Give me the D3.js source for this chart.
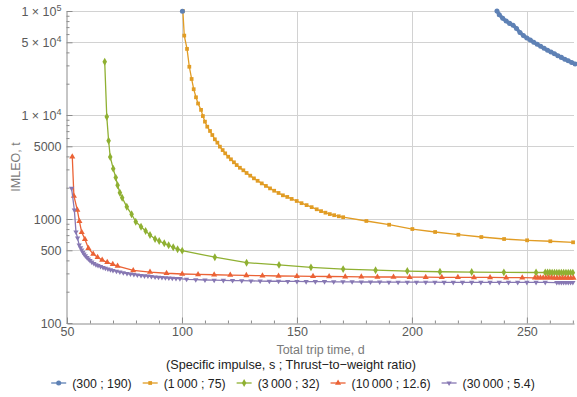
<!DOCTYPE html>
<html>
<head>
<meta charset="utf-8">
<script src="https://cdn.jsdelivr.net/npm/d3@7"></script>
<style>
  body { margin: 0; background: #fff; }
  svg { font-family: "Liberation Sans", Arial, sans-serif; }
</style>
</head>
<body>
<svg id="chart" width="577" height="397"></svg>
<script>
// Legend labels and colours
const seriesLabels = ["(300 ; 190)", "(1\u2009000 ; 75)", "(3\u2009000 ; 32)", "(10\u2009000 ; 12.6)", "(30\u2009000 ; 5.4)"];
const seriesColors = ["#5e81b5", "#e19c24", "#8fb032", "#eb6235", "#8778b3"];

// Series values (days, tonnes). null breaks the line.
const blueDays = [100.2, null, 237, 238, 239.5, 241, 242.5, 244, 245.5, 247, 248.5, 250, 251.5, 253, 254.5, 256, 257.5, 259, 260.5, 262, 263.5, 265, 266.5, 268, 269.5, 271];
const blueImleo = [99500, null, 100000, 92000, 85000, 80000, 76000, 73000, 68000, 62000, 58000, 55000, 52500, 50000, 47800, 45800, 43800, 42000, 40300, 38800, 37200, 35800, 34400, 33200, 32000, 31000];

const orangeDays = [100.4, 101.0, 102.2, 103.2, 104.2, 105.1, 106.1, 107.0, 108.3, 109.1, 110, 111, 112.2, 113.2, 114.3, 115.4, 116.5, 117.7, 118.8, 120.1, 121.3, 122.6, 123.8, 125.2, 126.7, 128.1, 129.7, 131.3, 132.9, 134.7, 136.5, 138.3, 140.1, 142, 143.9, 145.8, 147.7, 149.9, 152, 154.2, 156.4, 158.6, 160.5, 162.4, 164.3, 166.2, 168.2, 170.1, 180.2, 190.1, 200.2, 210.1, 220.2, 230.2, 240.1, 250.1, 260.2, 270.1];
const orangeImleo = [100000, 58000, 43200, 29100, 22200, 17700, 14800, 12900, 11200, 9770, 8630, 7720, 7020, 6420, 5840, 5420, 4960, 4600, 4280, 3970, 3750, 3510, 3300, 3110, 2940, 2770, 2610, 2460, 2330, 2200, 2080, 1970, 1870, 1780, 1690, 1630, 1560, 1490, 1420, 1360, 1300, 1240, 1190, 1150, 1115, 1088, 1062, 1040, 957, 881, 801, 750, 706, 671, 642, 624, 611, 597];

const greenDays = [66.4, 67.3, 68.1, 68.8, 70.1, 71.2, 72.0, 73.0, 74.0, 76.0, 78.1, 79.9, 82.2, 84.2, 86.1, 88.3, 90.1, 92.3, 94.2, 96.2, 98.1, 100.1, 114.3, 128.1, 142.2, 156.1, 170.1, 184.2, 198, 212.2, 226, 240, 254, 258, 259, 260, 261, 262, 263, 264, 265, 266, 267, 268, 269, 270];
const greenImleo = [32500, 9630, 5660, 3950, 3050, 2500, 2110, 1790, 1600, 1310, 1110, 942, 843, 767, 702, 642, 614, 584, 559, 535, 512, 496, 429, 380, 362, 343, 330, 322, 316, 311, 309, 307, 306, 306, 306, 306, 305, 305, 305, 305, 305, 305, 305, 305, 305, 305];

const redDays = [52.3, 53.0, 54.5, 55.4, 56.4, 57.8, 59.3, 61.4, 63.3, 65.3, 67.5, 69.9, 72.0, 78.8, 86.1, 93.3, 100.1, 107, 114, 121, 128, 135, 142, 150, 157, 164, 171, 178, 185, 192, 199, 206, 213, 220, 227, 234, 241, 248, 253.5, 254.7, 255.9, 257.1, 258.3, 259.5, 260.7, 261.9, 263.1, 264.3, 265.5, 266.7, 267.9, 269.1, 270.3];
const redImleo = [3970, 1665, 1220, 950, 745, 638, 523, 460, 428, 403, 383, 367, 353, 320, 309, 301, 296, 293, 291, 289, 287, 285, 283, 282, 281, 280, 279, 278, 277, 277, 276, 276, 275, 275, 274, 274, 273, 273, 272, 272, 272, 272, 272, 272, 272, 271, 271, 271, 271, 271, 271, 271, 271];

const purpleDays = [52.0, 53.2, 53.9, 54.6, 55.3, 55.9, 56.4, 56.9, 57.4, 58.0, 58.7, 59.3, 60.0, 60.8, 61.7, 62.6, 63.5, 64.6, 65.7, 66.7, 67.8, 68.9, 70.0, 71.5, 73.0, 74.5, 76.1, 77.6, 79.1, 80.6, 82.2, 83.7, 85.2, 86.7, 88.3, 89.8, 91.3, 92.8, 94.3, 95.8, 97.4, 99.1, 102, 106, 110, 114, 118, 122, 126, 130, 134, 138, 142, 146, 150, 154, 158, 162, 166, 170, 174, 178, 182, 186, 190, 194, 198, 202, 206, 210, 214, 218, 222, 226, 230, 234, 238, 242, 246, 250, 254, 258, 263, 264, 265, 266, 267, 268, 269, 270];
const purpleImleo = [1970, 1220, 750, 656, 562, 530, 503, 480, 461, 442, 426, 412, 399, 385, 373, 364, 357, 349, 342, 336, 331, 325, 320, 314, 309, 304, 299, 296, 293, 289, 286, 284, 283, 280, 277, 275, 274, 272, 271, 269, 268, 267, 263, 261, 259, 258, 257, 256, 255, 254, 253, 252, 252, 251, 251, 250, 250, 250, 249, 249, 249, 248, 248, 248, 247, 247, 247, 247, 247, 247, 246, 246, 246, 246, 246, 246, 246, 246, 246, 246, 246, 246, 245, 245, 245, 245, 245, 245, 245, 245];

const xTicks = [50, 100, 150, 200, 250];
const yTicks = [100, 500, 1000, 5000, 10000, 50000, 100000];
const yTickLabels = [["100"], ["500"], ["1000"], ["5000"], ["1 \u00d7 10", "4"], ["5 \u00d7 10", "4"], ["1 \u00d7 10", "5"]];

const xTitle = "Total trip time, d";
const yTitle = "IMLEO, t";
const legendTitle = "(Specific impulse, s ; Thrust\u2212to\u2212weight ratio)";

const series = [
  { days: blueDays, imleo: blueImleo, symbol: d3.symbolCircle, size: 20, rot: 0, width: 3.5 },
  { days: orangeDays, imleo: orangeImleo, symbol: d3.symbolSquare, size: 14, rot: 0, width: 1.3 },
  { days: greenDays, imleo: greenImleo, symbol: d3.symbolDiamond, size: 18, rot: 0, width: 1.3 },
  { days: redDays, imleo: redImleo, symbol: d3.symbolTriangle, size: 16, rot: 0, width: 1.3 },
  { days: purpleDays, imleo: purpleImleo, symbol: d3.symbolTriangle, size: 12, rot: 180, width: 1.3 }
];

const plotLeft = 67, plotRight = 574, plotTop = 11, plotBottom = 323;
const svg = d3.select("#chart");

const x = d3.scaleLinear().domain([50, 270.5]).range([plotLeft, plotRight]);
const y = d3.scaleLog().domain([100, 100000]).range([plotBottom, plotTop]);

// Grid lines
const grid = svg.append("g").attr("stroke", "#d2d2d2").attr("stroke-width", 1);
grid.selectAll("line.v")
  .data(xTicks.slice(1))
  .enter().append("line")
  .attr("x1", d => Math.round(x(d)) + 0.5).attr("x2", d => Math.round(x(d)) + 0.5)
  .attr("y1", plotTop).attr("y2", plotBottom);
grid.selectAll("line.h")
  .data([500, 1000, 5000, 10000, 50000, 100000])
  .enter().append("line")
  .attr("x1", plotLeft).attr("x2", plotRight)
  .attr("y1", d => Math.round(y(d)) + 0.5).attr("y2", d => Math.round(y(d)) + 0.5);

// Minor ticks
const minorY = [];
[100, 1000, 10000].forEach(b => { for (let k = 2; k <= 9; k++) if (k !== 5) minorY.push(b * k); });
const minorX = d3.range(60, 271, 10).filter(v => v % 50 !== 0);

const axisColor = "#8c8c8c";
const labelColor = "#5a5a5a";

const xAxis = svg.append("g").attr("transform", `translate(0,${plotBottom + 0.5})`)
  .call(d3.axisBottom(x).tickValues(xTicks).tickSizeInner(-6).tickSizeOuter(0).tickPadding(6));
svg.append("g").attr("transform", `translate(0,${plotBottom + 0.5})`)
  .call(d3.axisBottom(x).tickValues(minorX).tickSizeInner(-3).tickSizeOuter(0).tickFormat(""))
  .select(".domain").remove();

const yAxis = svg.append("g").attr("transform", `translate(${plotLeft - 0.5},0)`)
  .call(d3.axisLeft(y).tickValues(yTicks).tickSizeInner(-6).tickSizeOuter(0).tickPadding(5).tickFormat(""));
svg.append("g").attr("transform", `translate(${plotLeft - 0.5},0)`)
  .call(d3.axisLeft(y).tickValues(minorY).tickSizeInner(-3).tickSizeOuter(0).tickFormat(""))
  .select(".domain").remove();

svg.selectAll(".domain, .tick line").attr("stroke", axisColor);
xAxis.selectAll(".tick text").attr("fill", labelColor).attr("font-size", 12.5)
  .attr("font-family", "Liberation Sans, Arial, sans-serif").attr("dy", "0.5em");

// y tick labels with superscripts
yAxis.selectAll(".tick").each(function(d) {
  const parts = yTickLabels[yTicks.indexOf(d)];
  d3.select(this).select("text").remove();
  const t = d3.select(this).append("text")
    .attr("x", -5).attr("y", 4)
    .attr("text-anchor", "end")
    .attr("fill", labelColor)
    .attr("font-size", 12.5)
    .attr("font-family", "Liberation Sans, Arial, sans-serif");
  t.append("tspan").text(parts[0]);
  if (parts[1]) t.append("tspan").attr("dy", -5).attr("font-size", 9).text(parts[1]);
});

// Axis titles
svg.append("text").attr("x", (plotLeft + plotRight) / 2).attr("y", 354)
  .attr("text-anchor", "middle").attr("fill", "#7a7a7a").attr("font-size", 12.5).text(xTitle);
svg.append("text").attr("transform", `translate(20,${(plotTop + plotBottom) / 2}) rotate(-90)`)
  .attr("text-anchor", "middle").attr("fill", "#7a7a7a").attr("font-size", 12.5).text(yTitle);

// Clip to plot area
svg.append("clipPath").attr("id", "plot-clip")
  .append("rect").attr("x", plotLeft).attr("y", plotTop - 3).attr("width", plotRight - plotLeft + 4).attr("height", plotBottom - plotTop + 3);

const plot = svg.append("g").attr("clip-path", "url(#plot-clip)");

const line = d3.line()
  .defined(d => d[0] !== null)
  .x(d => x(d[0])).y(d => y(d[1]));

// draw blue last so its stray point sits on top of the orange start
[1, 2, 3, 4, 0].forEach(i => {
  const s = series[i];
  const pts = s.days.map((d, j) => [d, s.imleo[j]]);
  const g = plot.append("g");
  g.append("path").datum(pts)
    .attr("fill", "none").attr("stroke", seriesColors[i]).attr("stroke-width", s.width)
    .attr("d", line);
  g.selectAll("path.m")
    .data(pts.filter(p => p[0] !== null))
    .enter().append("path")
    .attr("transform", p => `translate(${x(p[0])},${y(p[1])}) rotate(${s.rot})`)
    .attr("d", d3.symbol().type(s.symbol).size(s.size))
    .attr("fill", seriesColors[i]);
});

// Legend
svg.append("text").attr("x", 291).attr("y", 369)
  .attr("text-anchor", "middle").attr("fill", "#222").attr("font-size", 12.7).text(legendTitle);

const legend = svg.append("g");
let cx = 0;
seriesLabels.forEach((lab, i) => {
  const g = legend.append("g");
  g.append("line").attr("x1", 0).attr("x2", 15).attr("y1", 0).attr("y2", 0)
    .attr("stroke", seriesColors[i]).attr("stroke-width", 1.3);
  g.append("path").attr("transform", `translate(7.5,0) rotate(${series[i].rot})`)
    .attr("d", d3.symbol().type(series[i].symbol).size(series[i].size)).attr("fill", seriesColors[i]);
  const t = g.append("text").attr("x", 21).attr("y", 4.5).attr("fill", "#222").attr("font-size", 12.3).text(lab);
  const w = 21 + t.node().getComputedTextLength();
  g.attr("transform", `translate(${cx},383)`);
  cx += w + 11;
});
const total = cx - 11;
legend.attr("transform", `translate(${293 - total / 2},0)`);
</script>
</body>
</html>
